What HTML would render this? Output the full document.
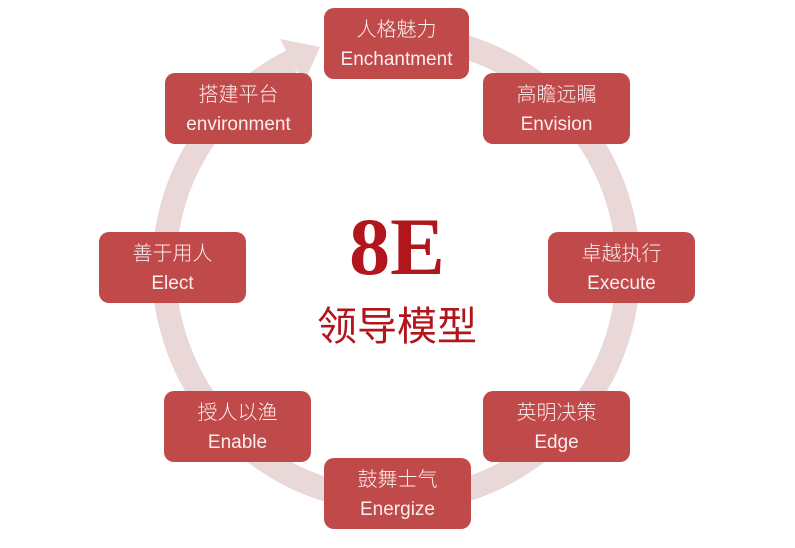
<!DOCTYPE html>
<html><head><meta charset="utf-8"><style>
body{margin:0;width:795px;height:548px;background:#fff;overflow:hidden;position:relative;font-family:"Liberation Sans","Noto Sans CJK SC",sans-serif}
.b{position:absolute;width:147px;height:71px;background:#c0494a;border-radius:10px;color:#fbeeee;text-align:center;box-sizing:border-box;padding-top:9px}
.b .c{font-size:20px;line-height:26px;font-weight:300}
.b .e{font-size:19px;line-height:34px}
</style></head><body>
<svg width="795" height="548" style="position:absolute;left:0;top:0">
<path d="M437 40 A232 232 0 1 1 292 61" fill="none" stroke="#ead7d7" stroke-width="24"/>
<polygon points="280,39 304,83 320,47" fill="#ead7d7"/>
<text x="397" y="274" text-anchor="middle" font-family="Liberation Serif,serif" font-size="82" font-weight="bold" fill="#b0161b">8E</text>
<text x="397" y="340" text-anchor="middle" font-family="Liberation Sans,Noto Sans CJK SC,sans-serif" font-size="40" fill="#b0161b">领导模型</text>
</svg>
<div class="b" style="left:324px;top:8px;width:145px"><div class="c">人格魅力</div><div class="e">Enchantment</div></div>
<div class="b" style="left:483px;top:73px"><div class="c">高瞻远瞩</div><div class="e">Envision</div></div>
<div class="b" style="left:548px;top:232px"><div class="c">卓越执行</div><div class="e">Execute</div></div>
<div class="b" style="left:483px;top:391px"><div class="c">英明决策</div><div class="e">Edge</div></div>
<div class="b" style="left:324px;top:458px"><div class="c">鼓舞士气</div><div class="e">Energize</div></div>
<div class="b" style="left:164px;top:391px"><div class="c">授人以渔</div><div class="e">Enable</div></div>
<div class="b" style="left:99px;top:232px"><div class="c">善于用人</div><div class="e">Elect</div></div>
<div class="b" style="left:165px;top:73px"><div class="c">搭建平台</div><div class="e">environment</div></div>
</body></html>
